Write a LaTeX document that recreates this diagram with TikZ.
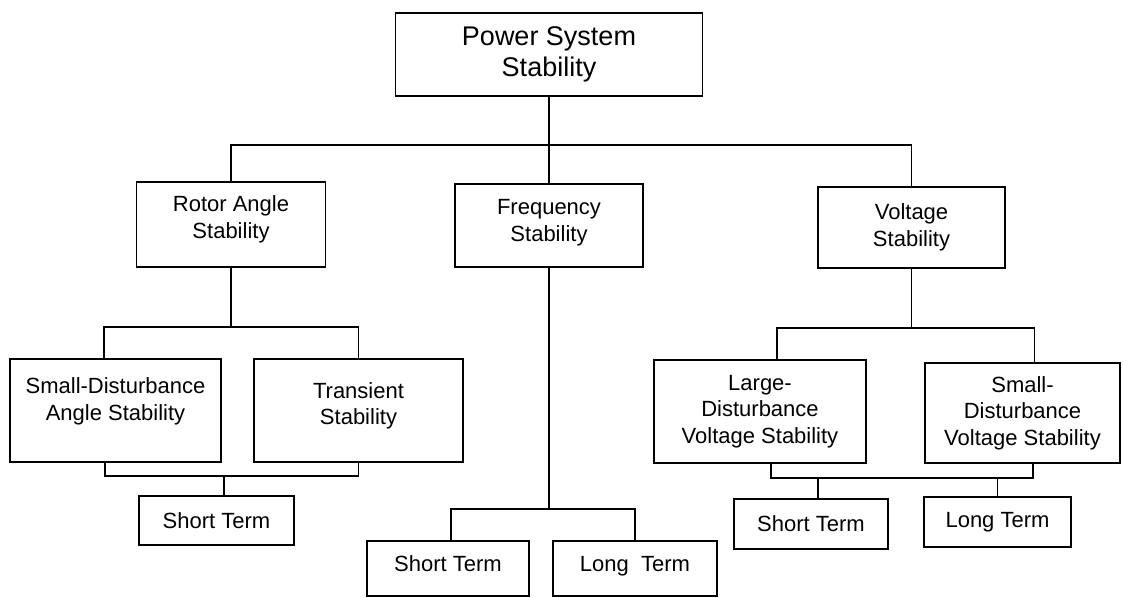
\documentclass[tikz,border=0pt]{standalone}
\usepackage{fontspec}
\setmainfont{Liberation Sans}
\usetikzlibrary{positioning}

% empty rule that lowers the bottom of a box's text
\newcommand{\padb}[1]{\rule[-#1]{0pt}{0pt}}

\begin{document}
\begin{tikzpicture}[
    x=1pt, y=-1pt,
    box/.style={draw, line width=1.6pt, align=center, inner sep=0pt,
                font=\fontsize{22}{26.5}\selectfont},
    link/.style={line width=1.6pt}
]
\useasboundingbox (0,0) rectangle (1123,597);

\node[box, minimum width=307, minimum height=83, font=\fontsize{27}{31}\selectfont]
    (pss) at (549,54.5) {Power System\\Stability};

\node[box, minimum width=189, minimum height=85] (rotor) at (231,224.5) {Rotor Angle\\Stability\padb{15pt}};
\node[box, minimum width=188, minimum height=83] (freq) at (549,225.5) {Frequency\\Stability\padb{10pt}};
\node[box, minimum width=187, minimum height=81] (volt) at (911.5,227.5) {Voltage\\Stability};

\node[box, minimum width=211, minimum height=103] (sdas) at (115.5,410.5) {Small-Disturbance\\Angle Stability\padb{23pt}};
\node[box, minimum width=209, minimum height=103] (trans) at (358.5,410.5) {Transient\\Stability\padb{14pt}};
\node[box, minimum width=155, minimum height=49] (rshort) at (216.5,520.5) {Short Term};

\node[box, minimum width=162, minimum height=55] (fshort) at (448,568.5) {Short Term\padb{9pt}};
\node[box, minimum width=164, minimum height=55] (flong) at (635,568.5) {Long\ \ Term\padb{9pt}};

\node[box, minimum width=212, minimum height=103] (ldvs) at (760,411.5) {Large-\\Disturbance\\Voltage Stability};
\node[box, minimum width=195, minimum height=100] (sdvs) at (1022.5,413) {Small-\\Disturbance\\Voltage Stability};
\node[box, minimum width=154, minimum height=50] (vshort) at (811,524) {Short Term};
\node[box, minimum width=147, minimum height=50] (vlong) at (997.5,522) {Long Term};

% branch points
\coordinate (top) at (549,145);
\coordinate (rbus) at (231,327);
\coordinate (rjoin) at (224,476);
\coordinate (fbus) at (549,509);
\coordinate (vbus) at (911.5,328);
\coordinate (vjoin) at (818,478);

\draw[link] (pss) -- (freq);
\draw[link] (rotor) |- (top) -| (volt);

\draw[link] (rotor) -- (rbus);
\draw[link] ([xshift=-11.5pt]sdas.north) |- (rbus) -| (trans);
\draw[link] ([xshift=-10.5pt]sdas.south) |- (rjoin) -| (trans);
\draw[link] (rjoin) -- (rjoin |- rshort.north);

\draw[link] (freq) -- (fbus);
\draw[link] ([xshift=3pt]fshort.north) |- (fbus) -| (flong);

\draw[link] (volt) -- (vbus);
\draw[link] ([xshift=17pt]ldvs.north) |- (vbus) -| ([xshift=12pt]sdvs.north);
\draw[link] ([xshift=11pt]ldvs.south) |- (vjoin) -| ([xshift=10.5pt]sdvs.south);
\draw[link] (vjoin) -- (vjoin |- vshort.north);
\draw[link] (vlong) -- (vlong |- vjoin);
\end{tikzpicture}
\end{document}
